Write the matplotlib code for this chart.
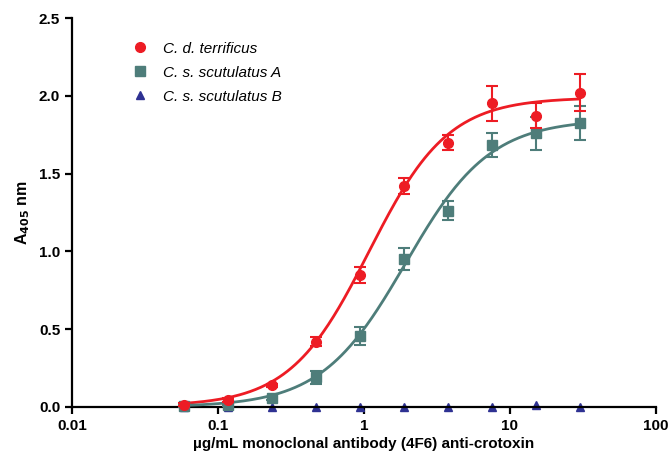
import numpy as np
import matplotlib
matplotlib.use("Agg")
import matplotlib.pyplot as plt

plt.rcParams['font.family'] = ['Liberation Sans', 'DejaVu Sans']

# data (ug/mL antibody, A405)
conc = [0.0586, 0.117, 0.234, 0.469, 0.9375, 1.875, 3.75, 7.5, 15, 30]

cdt_mean = [0.015, 0.045, 0.14, 0.42, 0.848, 1.42, 1.70, 1.952, 1.872, 2.022]
cdt_err = [0.01, 0.01, 0.01, 0.027, 0.053, 0.05, 0.05, 0.113, 0.08, 0.118]

cssa_mean = [0.005, 0.01, 0.056, 0.19, 0.456, 0.95, 1.262, 1.684, 1.759, 1.827]
cssa_err = [0.005, 0.005, 0.01, 0.04, 0.06, 0.072, 0.06, 0.075, 0.105, 0.107]

cssb_mean = [0.0, 0.0, 0.0, 0.0, 0.0, 0.0, 0.0, 0.0, 0.01, 0.0]

# 4PL fit parameters: bottom, top, EC50, hill
cdt_fit = (0.005, 1.99, 1.08, 1.6)
cssa_fit = (0.0, 1.85, 1.93, 1.5)

red = '#ED1C24'
teal = '#4E7D7A'
navy = '#2E3192'


def logistic(x, p):
    b, t, ec50, h = p
    return b + (t - b) / (1 + (ec50 / x) ** h)


fig = plt.figure(figsize=(6.7, 4.55), dpi=100)
ax = fig.add_axes([0.1075, 0.1055, 0.8715, 0.8545])

xs = np.logspace(np.log10(conc[0]), np.log10(conc[-1]), 300)
ax.plot(xs, logistic(xs, cdt_fit), color=red, lw=2.0, zorder=3)
ax.plot(xs, logistic(xs, cssa_fit), color=teal, lw=2.0, zorder=3)

ax.errorbar(conc, cssb_mean, fmt='^', color=navy, ms=6, mec=navy,
            label='C. s. scutulatus B', zorder=2, clip_on=False)
ax.errorbar(conc, cssa_mean, yerr=cssa_err, fmt='s', color=teal, ms=6.5,
            ecolor=teal, elinewidth=1.5, capsize=4.5, capthick=1.5,
            label='C. s. scutulatus A', zorder=4, clip_on=False)
ax.errorbar(conc, cdt_mean, yerr=cdt_err, fmt='o', color=red, ms=7,
            ecolor=red, elinewidth=1.5, capsize=4.5, capthick=1.5,
            label='C. d. terrificus', zorder=5, clip_on=False)

ax.set_xscale('log')
ax.set_xlim(0.01, 100)
ax.set_ylim(0, 2.5)
ax.set_xticks([0.01, 0.1, 1, 10, 100])
ax.set_xticklabels(['0.01', '0.1', '1', '10', '100'])
ax.xaxis.set_minor_locator(matplotlib.ticker.NullLocator())
ax.set_yticks([0.0, 0.5, 1.0, 1.5, 2.0, 2.5])
ax.set_yticklabels(['0.0', '0.5', '1.0', '1.5', '2.0', '2.5'])

for s in ['top', 'right']:
    ax.spines[s].set_visible(False)
for s in ['left', 'bottom']:
    ax.spines[s].set_linewidth(1.6)
ax.tick_params(width=1.6, length=5, labelsize=11, direction='out')
for lab in ax.get_xticklabels() + ax.get_yticklabels():
    lab.set_fontweight('bold')

ax.set_xlabel('µg/mL monoclonal antibody (4F6) anti-crotoxin',
              fontsize=11, fontweight='bold', labelpad=3)
ax.set_ylabel(r'A$_{\mathbf{405}}$ nm', fontsize=11.5, fontweight='bold', labelpad=5)

handles, labels = ax.get_legend_handles_labels()
handles = [h[0] for h in handles[::-1]]
leg = ax.legend(handles, labels[::-1], loc='upper left', bbox_to_anchor=(0.08, 0.975),
                frameon=False, prop={'style': 'italic', 'size': 11},
                handletextpad=1.0, labelspacing=0.65, handlelength=1.0)

fig.savefig('out.png', dpi=100)
